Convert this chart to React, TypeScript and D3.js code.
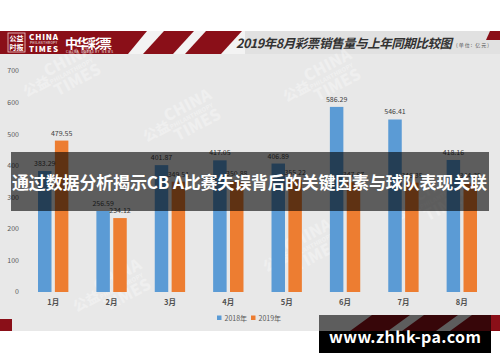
import { useEffect, useRef } from 'react';
import * as d3 from 'd3';

const months = ['1月', '2月', '3月', '4月', '5月', '6月', '7月', '8月'];
const series = ['2018年', '2019年'];
const sales2018 = [383.29, 256.59, 401.87, 417.05, 406.89, 586.29, 546.41, 418.16];
const sales2019 = [479.55, 234.12, 349.51, 350.88, 355.22, 347.67, 346.35, 344.35];
const yTicks = [0, 100, 200, 300, 400, 500, 600, 700];
const seriesColors = ['#5b9bd5', '#ed7d31'];

const W = 500;
const H = 362;
const FONT = '"Noto Sans CJK SC", "Noto Sans", sans-serif';
const RED = '#8a0f18';

export default function App() {
  const svgRef = useRef<SVGSVGElement>(null);

  useEffect(() => {
    if (!svgRef.current) return;
    const svg = d3.select(svgRef.current);
    svg.selectAll('*').remove();

    // fondo
    svg.append('rect').attr('width', W).attr('height', H).attr('fill', '#ffffff');
    svg.append('rect').attr('x', 0).attr('y', 31).attr('width', W).attr('height', 300).attr('fill', '#e8e8e8');
    svg.append('rect').attr('x', 0).attr('y', 31).attr('width', W).attr('height', 23).attr('fill', '#e1e1e1');

    // cabecera roja con franjas
    const header = svg.append('g');
    header.append('rect').attr('x', 0).attr('y', 31).attr('width', 245).attr('height', 23).attr('fill', '#f3f3f3');
    const redShapes = [
      [[0, 31], [147, 31], [128, 54], [0, 54]],
      [[164, 31], [194, 31], [173, 54], [143, 54]],
      [[206, 31], [242, 31], [221, 54], [185, 54]],
      [[490, 31], [500, 31], [500, 40], [486, 40]],
    ];
    header.selectAll('polygon')
      .data(redShapes)
      .enter()
      .append('polygon')
      .attr('points', d => d.map(p => p.join(',')).join(' '))
      .attr('fill', RED);

    // logo
    const logo = header.append('g').attr('fill', '#ffffff').style('font-family', FONT);
    logo.append('rect').attr('x', 8).attr('y', 33).attr('width', 17).attr('height', 19)
      .attr('fill', 'none').attr('stroke', '#f0d0d0').attr('stroke-width', 0.8);
    logo.append('text').attr('x', 16.5).attr('y', 41).attr('text-anchor', 'middle')
      .style('font-size', '7px').style('font-weight', 700).text('公益');
    logo.append('text').attr('x', 16.5).attr('y', 50).attr('text-anchor', 'middle')
      .style('font-size', '7px').style('font-weight', 700).text('时报');
    logo.append('text').attr('x', 29).attr('y', 40).attr('textLength', 29)
      .style('font-size', '8px').style('font-weight', 900).text('CHINA');
    logo.append('text').attr('x', 30).attr('y', 44).attr('textLength', 27)
      .style('font-size', '3px').text('PHILANTHROPY');
    logo.append('text').attr('x', 29).attr('y', 52).attr('textLength', 29)
      .style('font-size', '8px').style('font-weight', 900).text('TIMES');
    logo.append('text').attr('x', 65).attr('y', 48).attr('textLength', 47)
      .style('font-size', '13px').style('font-weight', 700).text('中华彩票');
    logo.append('text').attr('x', 66).attr('y', 53).attr('textLength', 47)
      .style('font-size', '3px').text('CHINA LOTTERY NEWS');

    header.append('text')
      .attr('x', 236).attr('y', 48)
      .attr('textLength', 216)
      .style('font-family', FONT).style('font-size', '12.5px').style('font-weight', 700)
      .style('font-style', 'italic')
      .attr('fill', '#333333')
      .text('2019年8月彩票销售量与上年同期比较图');
    header.append('text')
      .attr('x', 456).attr('y', 47)
      .attr('textLength', 33)
      .style('font-family', FONT).style('font-size', '5px')
      .attr('fill', '#555555')
      .text('(单位: 亿元)');

    // marcas de agua
    const marks = [[180, 120], [320, 80], [110, 290], [300, 250], [430, 200], [60, 75]];
    marks.forEach(([mx, my]) => {
      const wm = svg.append('g')
        .attr('transform', `translate(${mx},${my}) rotate(-28)`)
        .attr('fill', '#ffffff').attr('opacity', 0.3)
        .style('font-family', FONT).style('font-weight', 900);
      wm.append('text').attr('x', -40).attr('y', 4).style('font-size', '14px').text('公益');
      wm.append('text').attr('x', -12).attr('y', -4).style('font-size', '16px').text('CHINA');
      wm.append('text').attr('x', -12).attr('y', 4).style('font-size', '6px').text('PHILANTHROPY');
      wm.append('text').attr('x', -12).attr('y', 18).style('font-size', '16px').text('TIMES');
    });

    // escalas
    const x0 = d3.scaleBand<string>().domain(months).range([24, 491]).paddingInner(0.48).paddingOuter(0.24);
    const x1 = d3.scaleBand<string>().domain(series).range([0, x0.bandwidth()]).paddingInner(0.2);
    const y = d3.scaleLinear().domain([0, 700]).range([292, 71]);

    const g = svg.append('g').style('font-family', FONT);

    g.selectAll('.ytick')
      .data(yTicks)
      .enter()
      .append('text')
      .attr('class', 'ytick')
      .attr('x', 19)
      .attr('y', d => y(d))
      .attr('dy', '0.35em')
      .attr('text-anchor', 'end')
      .style('font-size', '7px')
      .attr('fill', '#595959')
      .text(d => d);

    const rows = months.map((m, i) => ({ month: m, values: [sales2018[i], sales2019[i]] }));
    const group = g.selectAll('.month')
      .data(rows)
      .enter()
      .append('g')
      .attr('class', 'month')
      .attr('transform', d => `translate(${x0(d.month)},0)`);

    const bars = group.selectAll('.bar')
      .data(d => d.values.map((v, j) => ({ key: series[j], v, j })))
      .enter();

    bars.append('rect')
      .attr('x', d => x1(d.key)!)
      .attr('y', d => y(d.v))
      .attr('width', x1.bandwidth())
      .attr('height', d => y(0) - y(d.v))
      .attr('fill', d => seriesColors[d.j]);

    bars.append('text')
      .attr('x', d => x1(d.key)! + x1.bandwidth() / 2)
      .attr('y', d => y(d.v) - 5)
      .attr('text-anchor', 'middle')
      .style('font-size', '7px')
      .attr('fill', '#404040')
      .text(d => d.v.toFixed(2));

    g.selectAll('.xlabel')
      .data(months)
      .enter()
      .append('text')
      .attr('class', 'xlabel')
      .attr('x', d => x0(d)! + x0.bandwidth() / 2)
      .attr('y', 305)
      .attr('text-anchor', 'middle')
      .style('font-size', '7.5px')
      .style('font-weight', 700)
      .attr('fill', '#505050')
      .text(d => d);

    // leyenda
    const legend = g.append('g');
    const legendX = [217, 251];
    series.forEach((s, i) => {
      legend.append('rect').attr('x', legendX[i]).attr('y', 315.5).attr('width', 4.5).attr('height', 4.5)
        .attr('fill', seriesColors[i]);
      legend.append('text').attr('x', legendX[i] + 7.5).attr('y', 320.5)
        .style('font-size', '7px').attr('fill', '#595959').text(s);
    });

    // esquinas rojas inferiores
    svg.append('rect').attr('x', 0).attr('y', 319).attr('width', 12).attr('height', 12).attr('fill', RED);
    const bottomStripes = [
      [[350, 331], [372, 315], [410, 315], [388, 331]],
      [[402, 331], [424, 315], [458, 315], [436, 331]],
      [[450, 331], [472, 315], [500, 315], [500, 331]],
    ];
    svg.selectAll('.bstripe')
      .data(bottomStripes)
      .enter()
      .append('polygon')
      .attr('class', 'bstripe')
      .attr('points', d => d.map(p => p.join(',')).join(' '))
      .attr('fill', RED);

    // banda superpuesta con título
    svg.append('rect').attr('x', 11).attr('y', 152).attr('width', 478).attr('height', 59)
      .attr('fill', '#000000').attr('opacity', 0.6);
    svg.append('text')
      .attr('x', 12).attr('y', 189)
      .attr('textLength', 475)
      .style('font-family', FONT).style('font-size', '17px').style('font-weight', 700)
      .attr('fill', '#ffffff')
      .text('通过数据分析揭示CB A比赛失误背后的关键因素与球队表现关联');

    // sello de la web
    svg.append('rect').attr('x', 319).attr('y', 315).attr('width', 172).attr('height', 16)
      .attr('fill', '#000000').attr('opacity', 0.6);
    svg.append('rect').attr('x', 319).attr('y', 331).attr('width', 172).attr('height', 22).attr('fill', '#000000');
    svg.append('text')
      .attr('x', 329).attr('y', 343)
      .attr('textLength', 152)
      .style('font-family', FONT).style('font-size', '16px').style('font-weight', 700)
      .attr('fill', '#ffffff')
      .text('www.zhhk-pa.com');
  }, []);

  return (
    <svg
      ref={svgRef}
      width={W}
      height={H}
      style={{ position: 'absolute', left: 0, top: 0, display: 'block' }}
    />
  );
}
